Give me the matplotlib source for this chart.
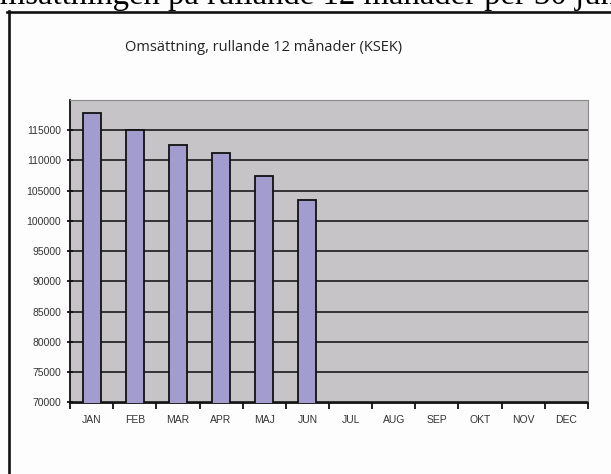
import numpy as np
import matplotlib.pyplot as plt
from matplotlib.lines import Line2D

months = ['JAN', 'FEB', 'MAR', 'APR', 'MAJ', 'JUN',
          'JUL', 'AUG', 'SEP', 'OKT', 'NOV', 'DEC']
# rolling 12-month turnover (KSEK), only Jan-Jun reported so far
turnover = [117800, 115100, 112500, 111300, 107500, 103400]
yticks = np.arange(70000, 115001, 5000)

W, H = 611, 474
fig = plt.figure(figsize=(W / 100, H / 100), dpi=100)
fig.patch.set_facecolor('#fdfdfd')

# heading of the page, partly cut off at the top
fig.text(-24 / W, 1 - 4 / H, 'Omsättningen på rullande 12 månader per 30 juni',
         family='Liberation Serif', fontsize=23.6, ha='left', va='baseline',
         color='black')

# frame around the embedded chart
fig.add_artist(Line2D([7 / W, 1.0], [1 - 11.5 / H, 1 - 11.5 / H],
                      transform=fig.transFigure, color='#111111', lw=1.9))
fig.add_artist(Line2D([8.5 / W, 8.5 / W], [1 - 10.5 / H, 0.0],
                      transform=fig.transFigure, color='#111111', lw=1.9))

fig.text(264 / W, 1 - 47 / H, 'Omsättning, rullande 12 månader (KSEK)',
         family='Open Sans', fontsize=10.5, ha='center', va='center',
         color='#222222')

ax = fig.add_axes([70 / W, 1 - 402.5 / H, (588 - 70) / W, (402.5 - 100) / H])
ax.set_facecolor('#c6c4c6')

x = np.arange(len(months))
ax.bar(x[:len(turnover)], turnover, width=0.42, color='#a39dcf',
       edgecolor='#111111', linewidth=1.3, zorder=3)

ax.set_xlim(-0.5, len(months) - 0.5)
ax.set_ylim(70000, 120000)
ax.set_yticks(yticks)
ax.set_yticklabels([str(v) for v in yticks])
ax.yaxis.grid(True, color='#1a1a1a', linewidth=1.2, zorder=1)
ax.set_axisbelow(True)

# month labels between boundary ticks
ax.set_xticks(x)
ax.set_xticklabels(months)
ax.tick_params(axis='x', which='major', length=0, pad=9)
ax.set_xticks(np.arange(len(months) + 1) - 0.5, minor=True)
ax.tick_params(axis='x', which='minor', length=4, width=1.3, color='#111111',
               direction='out')
ax.tick_params(axis='y', length=5, width=1.3, color='#111111',
               direction='inout', pad=4)

for lab in ax.get_xticklabels() + ax.get_yticklabels():
    lab.set_family('Liberation Sans')
    lab.set_fontsize(7.5)
    lab.set_color('#333333')

ax.spines['left'].set_color('#111111')
ax.spines['left'].set_linewidth(1.3)
ax.spines['bottom'].set_color('#111111')
ax.spines['bottom'].set_linewidth(1.3)
ax.spines['top'].set_color('#8a8a8a')
ax.spines['right'].set_color('#8a8a8a')

fig.savefig('out.png', dpi=100, facecolor=fig.get_facecolor())
